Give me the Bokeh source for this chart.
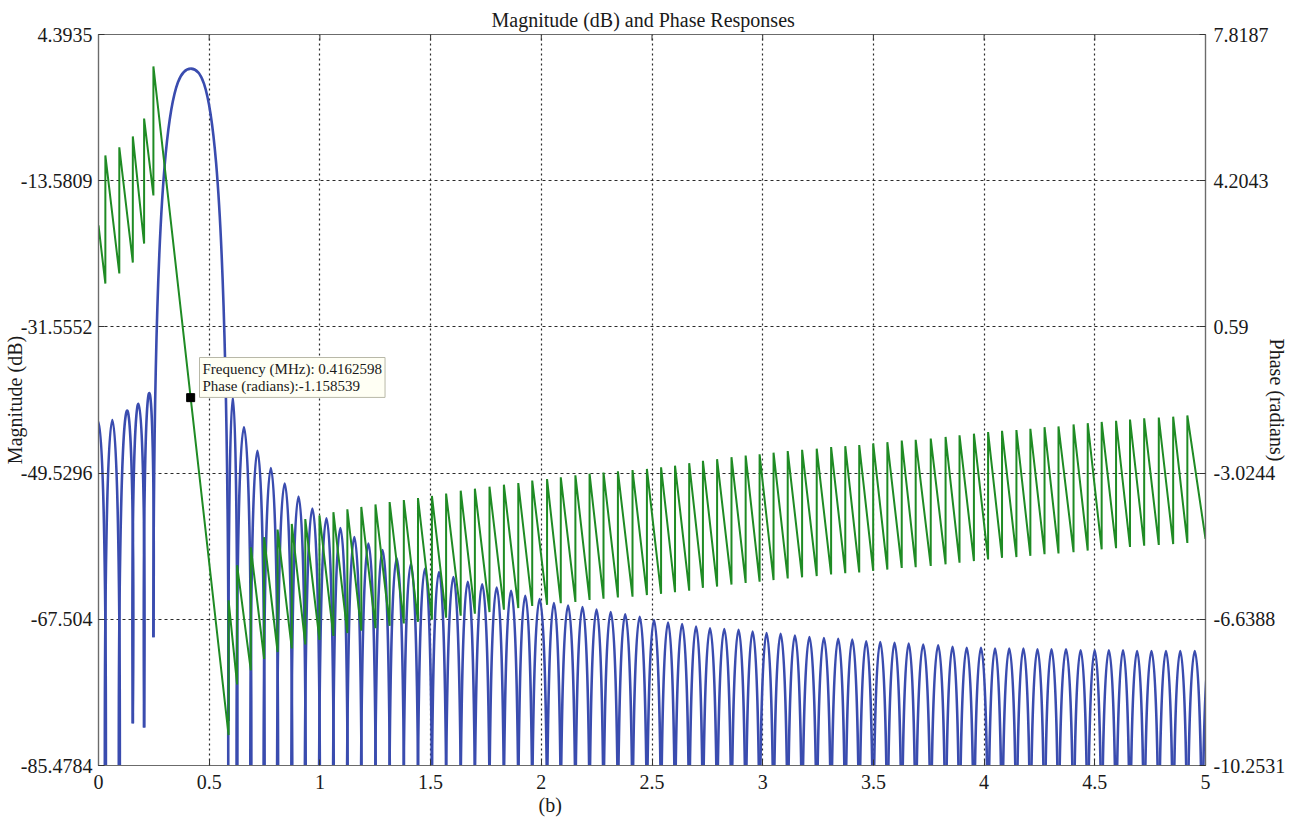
import math
from bokeh.plotting import figure
from bokeh.models import Range1d, LinearAxis, FixedTicker, ColumnDataSource, Label, Title
from bokeh.embed import file_html
from bokeh.resources import INLINE

# ---------------------------------------------------------------- layout
W, H = 1294, 831
FRAME_L, FRAME_R, FRAME_T, FRAME_B = 96, 1205, 34, 765
FONT = "Liberation Serif"
BLUE = "#3a4caf"
GREEN = "#1f8b24"

# ---------------------------------------------------------------- axes
freq_min, freq_max = 0.0, 5.0
mag_min, mag_max = -85.4784, 4.3935
phase_min, phase_max = -10.2531, 7.8187

freq_ticks = [0.0, 0.5, 1.0, 1.5, 2.0, 2.5, 3.0, 3.5, 4.0, 4.5, 5.0]
freq_tick_labels = ["0", "0.5", "1", "1.5", "2", "2.5", "3", "3.5", "4", "4.5", "5"]
mag_ticks = [-85.4784, -67.504, -49.5296, -31.5552, -13.5809, 4.3935]
mag_tick_labels = ["-85.4784", "-67.504", "-49.5296", "-31.5552", "-13.5809", "4.3935"]
phase_ticks = [-10.2531, -6.6388, -3.0244, 0.59, 4.2043, 7.8187]
phase_tick_labels = ["-10.2531", "-6.6388", "-3.0244", "0.59", "4.2043", "7.8187"]

# ---------------------------------------------------------------- magnitude (dB)
# lower stopband: null frequencies (MHz), null depth (None = below the plot)
lower_nulls = [-0.033, 0.031, 0.094, 0.155, 0.206, 0.248]
lower_null_depth = [None, None, None, -80.3, -80.8, -69.7]
lower_lobe_peaks = [-43.2, -43.0, -42.2, -41.0, -39.8]

# passband lobe
main_peak_freq = 0.4175
main_peak_db = 0.2

# upper stopband: null frequencies (MHz) and side-lobe peaks (dB)
upper_nulls = [
    0.5875, 0.626, 0.688, 0.748, 0.809, 0.873, 0.934, 0.998, 1.061, 1.124,
    1.187, 1.251, 1.315, 1.379, 1.443, 1.506, 1.570, 1.636, 1.700, 1.766,
    1.831, 1.896, 1.959, 2.026, 2.088, 2.154, 2.218, 2.281, 2.346, 2.412,
    2.477, 2.541, 2.604, 2.668, 2.730, 2.794, 2.859, 2.923, 2.986, 3.049,
    3.113, 3.178, 3.244, 3.309, 3.373, 3.436, 3.499, 3.563, 3.628, 3.691,
    3.759, 3.826, 3.889, 3.954, 4.018, 4.081, 4.146, 4.209, 4.273, 4.336,
    4.404, 4.468, 4.531, 4.596, 4.659, 4.723, 4.789, 4.854, 4.918, 4.985,
    5.05,
]
upper_lobe_peaks = [
    -40.2, -43.9, -46.8, -48.9, -50.8, -52.4, -53.9, -55.1, -56.3, -57.4,
    -58.2, -59.0, -60.0, -60.7, -61.3, -61.7, -62.3, -62.9, -63.2, -63.6,
    -64.0, -64.6, -65.0, -65.5, -65.8, -66.0, -66.3, -66.6, -66.9, -67.2,
    -67.6, -67.9, -68.1, -68.4, -68.6, -68.7, -68.8, -69.0, -69.2, -69.3,
    -69.5, -69.7, -69.8, -69.9, -70.0, -70.2, -70.3, -70.4, -70.5, -70.6,
    -70.7, -70.9, -71.0, -71.0, -71.1, -71.1, -71.1, -71.2, -71.2, -71.2,
    -71.3, -71.3, -71.3, -71.3, -71.4, -71.4, -71.4, -71.4, -71.4, -71.5,
]

# ---------------------------------------------------------------- phase (radians)
phase_start = 3.10
lower_phase_low = [1.66, 1.91, 2.18, 2.65, 3.84]
lower_phase_top = [4.83, 5.03, 5.30, 5.74, 7.03]
upper_phase_low = [
    -9.50, -8.25, -7.90, -7.62, -7.45, -7.36, -7.26, -7.15, -7.05, -6.98,
    -6.92, -6.86, -6.80, -6.74, -6.70, -6.65, -6.60, -6.55, -6.50, -6.46,
    -6.40, -6.36, -6.31, -6.28, -6.24, -6.21, -6.16, -6.13, -6.10, -6.08,
    -6.04, -6.01, -5.97, -5.93, -5.86, -5.83, -5.78, -5.74, -5.71, -5.67,
    -5.63, -5.60, -5.57, -5.53, -5.50, -5.48, -5.44, -5.41, -5.37, -5.35,
    -5.32, -5.28, -5.24, -5.20, -5.16, -5.12, -5.10, -5.07, -5.03, -5.01,
    -4.98, -4.94, -4.91, -4.88, -4.85, -4.82, -4.80, -4.78, -4.75,
]
upper_phase_top = [
    -6.17, -5.30, -4.86, -4.61, -4.42, -4.28, -4.16, -4.07, -3.99, -3.92,
    -3.86, -3.80, -3.74, -3.69, -3.64, -3.59, -3.53, -3.46, -3.41, -3.36,
    -3.31, -3.27, -3.21, -3.17, -3.13, -3.08, -3.04, -3.01, -2.98, -2.95,
    -2.92, -2.88, -2.84, -2.78, -2.72, -2.68, -2.63, -2.59, -2.56, -2.52,
    -2.48, -2.45, -2.42, -2.38, -2.36, -2.33, -2.29, -2.26, -2.22, -2.20,
    -2.17, -2.13, -2.09, -2.05, -2.01, -1.98, -1.96, -1.93, -1.89, -1.87,
    -1.82, -1.79, -1.76, -1.73, -1.70, -1.67, -1.65, -1.63, -1.60,
]
phase_end = -4.65

# data cursor
cursor_freq = 0.4162598
cursor_phase = -1.158539

# ---------------------------------------------------------------- magnitude curve as bezier lobes
seg = {k: [] for k in ("x0", "y0", "x1", "y1", "cx0", "cy0", "cx1", "cy1")}


def add_segment(x0, y0, cx0, cy0, cx1, cy1, x1, y1):
    for k, v in zip(("x0", "y0", "cx0", "cy0", "cx1", "cy1", "x1", "y1"),
                    (x0, y0, cx0, cy0, cx1, cy1, x1, y1)):
        seg[k].append(v)


def add_lobe(xa, da, xb, db, peak):
    # a side lobe between two nulls, rounded top and steep flanks
    w = xb - xa
    da = peak - 60.0 if da is None else da
    db = peak - 60.0 if db is None else db
    c = (8.0 * peak - da - db) / 6.0
    add_segment(xa, da, xa - 0.3 * w, c, xb + 0.3 * w, c, xb, db)


for i, pk in enumerate(lower_lobe_peaks):
    add_lobe(lower_nulls[i], lower_null_depth[i],
             lower_nulls[i + 1], lower_null_depth[i + 1], pk)

# passband lobe: rising and falling halves
xl, dl = lower_nulls[-1], lower_null_depth[-1]
xr = upper_nulls[0]
hl = main_peak_freq - xl
hr = xr - main_peak_freq
add_segment(xl, dl, xl, -4.0, main_peak_freq - 0.45 * hl, main_peak_db,
            main_peak_freq, main_peak_db)
add_segment(main_peak_freq, main_peak_db, main_peak_freq + 0.45 * hr, main_peak_db,
            xr, -4.0, xr, -80.0)

for i, pk in enumerate(upper_lobe_peaks):
    add_lobe(upper_nulls[i], None, upper_nulls[i + 1], None, pk)

mag_src = ColumnDataSource(seg)

# ---------------------------------------------------------------- phase polyline (jumps of pi at nulls)
px, py = [freq_min], [phase_start]
for f, lo, hi in zip(lower_nulls[1:], lower_phase_low, lower_phase_top):
    px += [f, f]
    py += [lo, hi]
for f, lo, hi in zip(upper_nulls, upper_phase_low, upper_phase_top):
    px += [f, f]
    py += [lo, hi]
px.append(freq_max)
py.append(phase_end)
phase_src = ColumnDataSource(dict(x=px, y=py))

# ---------------------------------------------------------------- figure
p = figure(
    width=W, height=H,
    x_range=Range1d(freq_min, freq_max),
    y_range=Range1d(mag_min, mag_max),
    output_backend="svg", toolbar_location=None,
    min_border_left=FRAME_L, min_border_right=W - FRAME_R,
    min_border_top=FRAME_T, min_border_bottom=H - FRAME_B,
)
p.extra_y_ranges = {"phase": Range1d(phase_min, phase_max)}
p.background_fill_color = "white"
p.border_fill_color = "white"
p.outline_line_color = "#6b6b6b"
p.outline_line_width = 1.2

p.title.text = "Magnitude (dB) and Phase Responses"
p.title.align = "left"
p.title.offset = 393
p.title.text_font = FONT
p.title.text_font_size = "20px"
p.title.text_font_style = "normal"
p.title.text_color = "#1a1a1a"
p.title.standoff = 8


def style_axis(ax, standoff):
    ax.axis_line_color = "#6b6b6b"
    ax.axis_line_width = 1.2
    ax.major_tick_in = 6
    ax.major_tick_out = 0
    ax.major_tick_line_color = "#333333"
    ax.minor_tick_in = 0
    ax.minor_tick_out = 0
    ax.major_label_standoff = standoff
    ax.major_label_text_font = FONT
    ax.major_label_text_font_size = "20px"
    ax.major_label_text_color = "#1a1a1a"
    ax.axis_label_text_font = FONT
    ax.axis_label_text_font_size = "20px"
    ax.axis_label_text_font_style = "normal"
    ax.axis_label_text_color = "#1a1a1a"


xax = p.xaxis[0]
xax.ticker = FixedTicker(ticks=freq_ticks)
xax.major_label_overrides = dict(zip(freq_ticks, freq_tick_labels))
style_axis(xax, 9)

yax = p.yaxis[0]
yax.ticker = FixedTicker(ticks=mag_ticks)
yax.major_label_overrides = dict(zip(mag_ticks, mag_tick_labels))
style_axis(yax, 6)
yax.axis_label = "Magnitude (dB)"
yax.axis_label_standoff = -8

rax = LinearAxis(y_range_name="phase", ticker=FixedTicker(ticks=phase_ticks))
rax.major_label_overrides = dict(zip(phase_ticks, phase_tick_labels))
style_axis(rax, 8)
rax.axis_label = "Phase (radians)"
rax.axis_label_standoff = -22
p.add_layout(rax, "right")

p.add_layout(Title(text="(b)", align="left", offset=440, text_font=FONT,
                   text_font_size="20px", text_font_style="normal",
                   text_color="#1a1a1a", standoff=0), "below")

p.xgrid.ticker = FixedTicker(ticks=freq_ticks)
p.ygrid.ticker = FixedTicker(ticks=mag_ticks)
p.xgrid.grid_line_color = "#2b2b2b"
p.ygrid.grid_line_color = "#2b2b2b"
p.xgrid.grid_line_dash = "2 3"
p.ygrid.grid_line_dash = "3 3"
p.xgrid.grid_line_width = 1.2
p.ygrid.grid_line_width = 1.2

# inward tick marks along the top edge of the frame
top_tick_len = 0.74
p.segment(x0=freq_ticks, y0=[mag_max] * len(freq_ticks),
          x1=freq_ticks, y1=[mag_max - top_tick_len] * len(freq_ticks),
          line_color="#333333", line_width=1)

# ---------------------------------------------------------------- curves
p.bezier(x0="x0", y0="y0", x1="x1", y1="y1", cx0="cx0", cy0="cy0",
         cx1="cx1", cy1="cy1", source=mag_src, line_color=BLUE, line_width=2.6)
p.line("x", "y", source=phase_src, y_range_name="phase",
       line_color=GREEN, line_width=2.0)
p.scatter([cursor_freq], [cursor_phase], y_range_name="phase", marker="square",
          size=8, fill_color="black", line_color="black")

# ---------------------------------------------------------------- data cursor tip
tip = Label(
    x=197 - FRAME_L, y=FRAME_B - 357, x_units="screen", y_units="screen",
    text="Frequency (MHz): %.7f\nPhase (radians):%.6f" % (cursor_freq, cursor_phase),
    text_font=FONT, text_font_size="15px", text_color="#1a1a1a",
    text_align="left", text_baseline="top", text_line_height=1.12,
    background_fill_color="#fffff4", border_line_color="#b8b8a8",
    border_line_width=1, padding=3,
)
p.add_layout(tip)

open("out.html", "w").write(file_html(p, INLINE))
